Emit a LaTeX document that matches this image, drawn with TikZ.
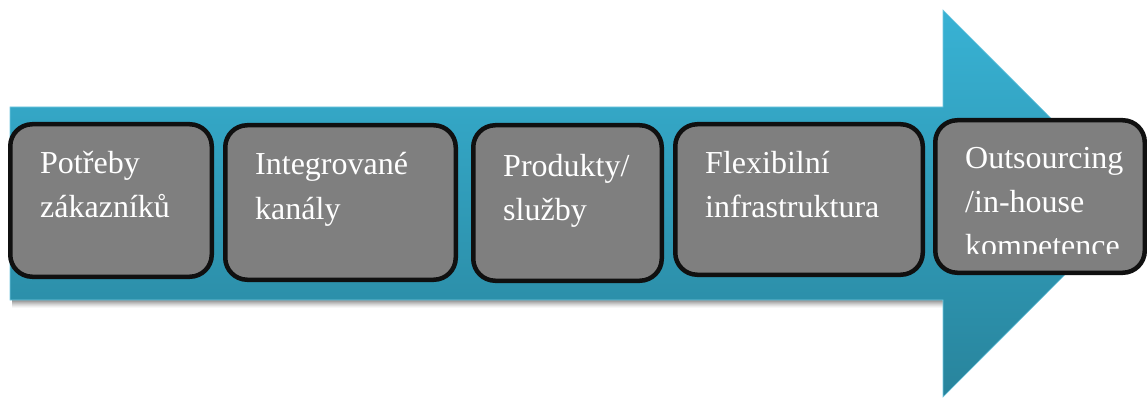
\documentclass[tikz,border=0pt]{standalone}
\usepackage{fontspec}
\setmainfont{Liberation Serif}
\usetikzlibrary{calc}
\definecolor{arrowtop}{RGB}{56,178,212}
\definecolor{arrowbot}{RGB}{40,132,156}
\definecolor{boxgray}{RGB}{127,127,127}
\definecolor{boxedge}{RGB}{16,16,16}
\newcommand{\stagelines}[1]{\vtop{\fontsize{32}{44}\selectfont\baselineskip=44pt #1}}
\tikzset{
  stagebox/.style={draw=boxedge, line width=4.5pt, fill=boxgray, rounded corners=22pt},
  stagetext/.style={anchor=base west, inner sep=0pt, text=white,
    font=\fontsize{32}{44}\selectfont},
}
\begin{document}
\begin{tikzpicture}[x=1pt,y=-1pt]
  \useasboundingbox (0,0) rectangle (1147,398);
  \fill[white] (0,0) rectangle (1147,398);
  % soft shadow under the shaft
  \foreach \d/\o in {1/0.10,2/0.09,3/0.08,4/0.07,5/0.06,6/0.05,7/0.04,8/0.03}
    \fill[black, opacity=\o] (12,296) rectangle (943,300+\d);
  % big arrow
  \shade[top color=arrowtop, bottom color=arrowbot, draw=arrowtop!70!white, line width=0.6pt]
    (10,107) -- (943,107) -- (943,10) -- (1136,203.5) -- (943,397) -- (943,300) -- (10,300) -- cycle;
  % stage boxes (outer edges given, path inset by half the stroke)
  \draw[stagebox] (10.25,124.25) rectangle (211.75,276.75);
  \draw[stagebox] (225.25,125.25) rectangle (455.75,279.75);
  \draw[stagebox] (473.25,125.25) rectangle (661.75,280.75);
  \draw[stagebox] (675.25,124.25) rectangle (922.75,274.75);
  \draw[stagebox] (935.25,120.25) rectangle (1144.75,272.75);
  % labels
  \node[stagetext] (t1) at (40,173) {\stagelines{\hbox{Potřeby}\hbox{zákazníků}}};
  \node[stagetext] (t2) at (255,175) {\stagelines{\hbox{Integrované}\hbox{kanály}}};
  \node[stagetext] (t3) at (503,176) {\stagelines{\hbox{Produkty/}\hbox{služby}}};
  \node[stagetext] (t4) at (705,173) {\stagelines{\hbox{Flexibilní}\hbox{infrastruktura}}};
  \begin{scope}
    \clip (940,125) rectangle (1140,253);
    \node[stagetext] (t5) at (965,168) {\stagelines{\hbox{Outsourcing}\hbox{/in-house}\hbox{kompetence}}};
  \end{scope}
\end{tikzpicture}
\end{document}
